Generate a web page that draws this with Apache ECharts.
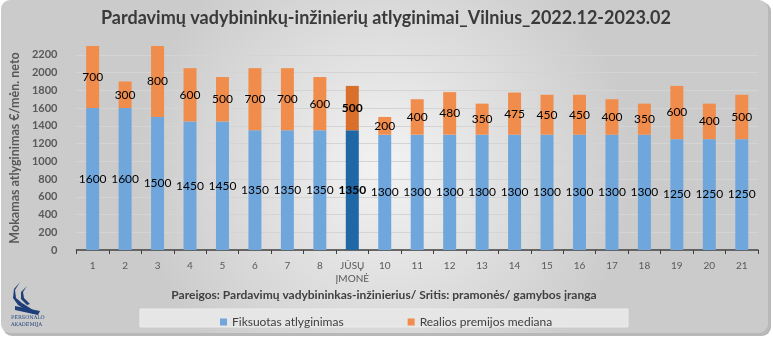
<!DOCTYPE html>
<html><head><meta charset="utf-8">
<script src="https://cdn.jsdelivr.net/npm/echarts@6/dist/echarts.min.js"></script>
<style>html,body{margin:0;padding:0;background:#fff}#c{width:773px;height:338px}</style>
</head><body><div id="c"></div>
<script>
const categories = ['1','2','3','4','5','6','7','8','JŪSŲ\nĮMONĖ','10','11','12','13','14','15','16','17','18','19','20','21'];
const fixedPay = [1600,1600,1500,1450,1450,1350,1350,1350,1350,1300,1300,1300,1300,1300,1300,1300,1300,1300,1250,1250,1250];
const bonusMedian = [700,300,800,600,500,700,700,600,500,200,400,480,350,475,450,450,400,350,600,400,500];
const yTicks = [0,200,400,600,800,1000,1200,1400,1600,1800,2000,2200];
const highlightIndex = 8;

const FONT = 'Lato';
const blue = '#6fa6dc', orange = '#f08c4c', blueH = '#1f67a5', orangeH = '#d8702c';

function mk(vals, col, colH){
  return vals.map((v,i)=> i===highlightIndex ? {value:v,itemStyle:{color:colH},label:{fontWeight:'bold'}} : {value:v,itemStyle:{color:col}});
}

const chart = echarts.init(document.getElementById('c'), null, {renderer:'canvas'});
chart.setOption({
  animation:false,
  backgroundColor:'#ffffff',
  graphic:[
    {type:'rect', z:-10, shape:{x:3,y:2,width:768,height:334,r:9}, style:{fill:'#b8b8b8'}},
    {type:'rect', z:-9, shape:{x:1,y:0,width:767,height:333,r:9},
      style:{fill:{type:'radial',x:0.5,y:0.5,r:0.75,colorStops:[{offset:0,color:'#f3f3f3'},{offset:1,color:'#cbcbcb'}]}}},
    {type:'rect', z:-8, shape:{x:140,y:309,width:488,height:18}, style:{fill:'#e6e6e6', stroke:'#ececec', lineWidth:1}},
    {type:'text', x:386, y:9, style:{text:'Pardavimų vadybininkų-inžinierių atlyginimai_Vilnius_2022.12-2023.02', font:'bold 18px '+FONT, fill:'#3a3a3a', textAlign:'center'}},
    {type:'text', x:384, y:289, style:{text:'Pareigos: Pardavimų vadybininkas-inžinierius/ Sritis: pramonės/ gamybos įranga', font:'bold 12px '+FONT, fill:'#404040', textAlign:'center'}},
    {type:'polygon', z:5, shape:{points:[[20,282],[15,290],[16,298],[22,303],[30,308],[37,313],[33,314],[26,310],[18,305],[13,298],[14,289]]}, style:{fill:'#1f3f7a'}},
    {type:'polygon', z:5, shape:{points:[[27,286],[23,292],[24,298],[30,304],[27,305],[21,299],[21,292]]}, style:{fill:'#1f3f7a'}},
    {type:'polygon', z:5, shape:{points:[[15,306],[40,311],[38,315],[15,310]]}, style:{fill:'#1f3f7a'}},
    {type:'text', x:11, y:315, style:{text:'PERSONALO', font:'5px "DejaVu Serif"', fill:'#1f3f7a'}},
    {type:'text', x:11, y:322, style:{text:'AKADEMIJA', font:'5px "DejaVu Serif"', fill:'#1f3f7a'}}
  ],
  grid:{left:67, right:15, top:46, bottom:88},
  legend:{
    data:['Fiksuotas atlyginimas','Realios premijos mediana'],
    left:215, top:311, itemWidth:7, itemHeight:7, itemGap:64, icon:'rect',
    textStyle:{fontFamily:FONT, fontSize:12, color:'#404040'}
  },
  xAxis:{
    type:'category', data:categories,
    axisLine:{lineStyle:{color:'#404040', width:1.5}},
    axisTick:{show:true, lineStyle:{color:'#404040'}, length:4},
    axisLabel:{fontFamily:FONT, fontSize:10, color:'#595959', margin:9, lineHeight:13, interval:0}
  },
  yAxis:{
    type:'value', min:0, max:2300, interval:200,
    name:'Mokamas atlyginimas €/mėn. neto', nameLocation:'middle', nameGap:38,
    nameTextStyle:{fontFamily:FONT, fontSize:12.5, fontWeight:'bold', color:'#595959'},
    axisLine:{show:false}, axisTick:{show:false},
    axisLabel:{fontFamily:FONT, fontSize:11, fontWeight:'bold', color:'#595959', margin:19, showMaxLabel:false,
      formatter:v=> yTicks.includes(v) ? String(v) : ''},
    splitLine:{lineStyle:{color:'#d4d4d4'}, showMaxLine:false}
  },
  series:[
    {name:'Fiksuotas atlyginimas', type:'bar', stack:'a', barWidth:'40%', data:mk(fixedPay,blue,blueH),
      itemStyle:{color:blue},
      label:{show:true, position:'inside', fontFamily:FONT, fontSize:12, color:'#000'}},
    {name:'Realios premijos mediana', type:'bar', stack:'a', barWidth:'40%', data:mk(bonusMedian,orange,orangeH),
      itemStyle:{color:orange},
      label:{show:true, position:'inside', fontFamily:FONT, fontSize:12, color:'#000'}}
  ]
});
</script></body></html>
